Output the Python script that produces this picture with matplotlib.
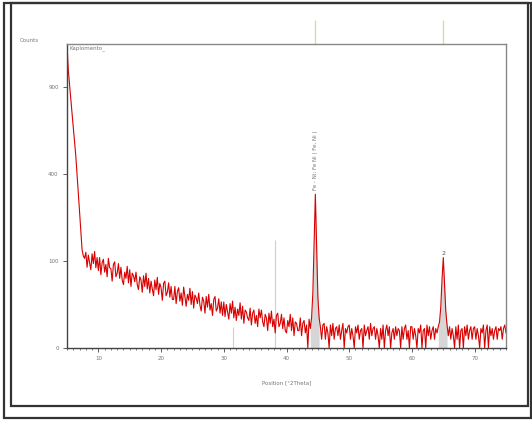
import numpy as np
import matplotlib
matplotlib.use("Agg")
import matplotlib.pyplot as plt
from matplotlib.patches import Rectangle
from matplotlib.ticker import FixedLocator, MultipleLocator
from matplotlib.transforms import blended_transform_factory

# Scan: start 5.0 deg, step 0.2 deg (counts)
SCAN_START = 5.0
SCAN_STEP = 0.2
counts = [
    1210, 1024, 918, 824, 729, 645, 562, 488, 400, 317, 246, 182, 128, 112, 106,
    121, 86, 114, 96, 81, 117, 94, 123, 85, 108,
    79, 108, 71, 96, 104, 76, 92, 67, 106, 85,
    83, 59, 92, 98, 67, 74, 94, 64, 86, 61,
    53, 76, 64, 88, 56, 81, 50, 74, 69, 58,
    76, 53, 45, 67, 61, 41, 69, 50, 74, 46,
    64, 40, 59, 46, 36, 61, 45, 66, 38, 55,
    48, 30, 55, 59, 36, 41, 56, 34, 50, 31,
    31, 50, 26, 42, 48, 29, 40, 24, 49, 35,
    23, 38, 30, 47, 25, 42, 21, 37, 33, 26,
    40, 24, 18, 34, 29, 16, 35, 22, 38, 19,
    26, 14, 31, 35, 18, 21, 32, 16, 28, 14,
    28, 13, 25, 17, 11, 26, 16, 29, 12, 22,
    10, 20, 14, 27, 11, 23, 8, 19, 17, 12,
    10, 21, 7, 16, 19, 8, 14, 6, 20, 12,
    19, 9, 6, 15, 12, 4, 16, 8, 18, 6,
    11, 3, 14, 16, 6, 8, 15, 5, 12, 4,
    3, 10, 6, 15, 4, 12, 2, 9, 8, 4,
    4, 12, 2, 8, 10, 3, 7, 0, 11, 5,
    12, 40, 150, 312, 140, 35, 12, 6, 1, 7,
    8, 1, 6, 3, 0, 7, 2, 8, 1, 5,
    6, 2, 7, 1, 4, 8, 0, 5, 3, 6,
    7, 1, 5, 2, 0, 6, 3, 7, 1, 4,
    5, 0, 7, 2, 4, 6, 1, 8, 2, 5,
    6, 1, 5, 2, 0, 5, 1, 7, 0, 4,
    7, 2, 6, 0, 3, 5, 1, 6, 2, 5,
    4, 0, 6, 1, 5, 7, 1, 4, 0, 6,
    6, 1, 5, 2, 0, 5, 3, 7, 0, 4,
    5, 0, 7, 2, 6, 1, 4, 6, 1, 5,
    3, 6, 9, 22, 62, 108, 55, 18, 7, 2,
    6, 1, 5, 2, 0, 6, 1, 7, 0, 4,
    5, 0, 6, 2, 7, 1, 4, 6, 1, 5,
    6, 1, 5, 2, 0, 5, 3, 7, 0, 4,
    7, 0, 6, 2, 5, 1, 4, 6, 1, 5,
    4, 6, 1, 5, 7, 3,
]

# reference pattern peaks (matched phase) and other reference lines
ref_peaks = [44.6, 65.0]
ref_windows = [(43.8, 45.4), (64.2, 65.8)]
other_lines = [31.4, 38.2]
other_heights = [6, 155]

y_ticks = [0, 100, 400, 900]
x_ticks = [10, 20, 30, 40, 50, 60, 70]

two_theta = SCAN_START + SCAN_STEP * np.arange(len(counts))
counts = np.array(counts, dtype=float)

fig = plt.figure(figsize=(5.32, 4.22), dpi=100)
W, H = 532, 422


def fig_rect(x0, y0, x1, y1, **kw):
    return Rectangle((x0 / W, 1 - y1 / H), (x1 - x0) / W, (y1 - y0) / H,
                     transform=fig.transFigure, fill=False, **kw)


fig.patches.append(fig_rect(4, 3, 531, 418, lw=1.6, edgecolor="#333333"))
fig.patches.append(fig_rect(11, 3, 528, 406, lw=1.6, edgecolor="#333333"))

ax = fig.add_axes([67 / W, 1 - 348 / H, (506 - 67) / W, (348 - 44) / H])
ax.set_yscale("function", functions=(np.sqrt, np.square))

for lo, hi in ref_windows:
    m = (two_theta >= lo) & (two_theta <= hi)
    ax.fill_between(two_theta[m], 0, counts[m], color="#d6d6d6", lw=0, zorder=1)

ax.vlines(other_lines, 0, other_heights, color="#cfcfcf", lw=0.8, zorder=1)
ax.plot(two_theta, counts, color="#d80000", lw=0.8, zorder=2)

trans = blended_transform_factory(ax.transData, ax.transAxes)
ax.vlines(ref_peaks, 1.0, 1.08, color="#d8d8b8", lw=1.0, transform=trans, clip_on=False)

ax.set_xlim(5, 75)
ax.set_ylim(0, 1220)
ax.xaxis.set_major_locator(FixedLocator(x_ticks))
ax.xaxis.set_minor_locator(MultipleLocator(1))
ax.yaxis.set_major_locator(FixedLocator(y_ticks))
ax.yaxis.set_minor_locator(FixedLocator([]))
ax.tick_params(axis="both", which="major", labelsize=4, labelcolor="#777777",
               length=3, width=0.6, color="#444444", pad=3)
ax.tick_params(axis="x", which="minor", length=1.5, width=0.5, color="#444444")

for s in ["left", "bottom"]:
    ax.spines[s].set_color("#444444")
    ax.spines[s].set_linewidth(1.0)
for s in ["top", "right"]:
    ax.spines[s].set_color("#888888")
    ax.spines[s].set_linewidth(1.0)

ax.set_xlabel("Position [°2Theta]", fontsize=4, color="#777777", labelpad=14)
fig.text(20 / W, 1 - 40 / H, "Counts", fontsize=4, color="#777777", va="center")
ax.text(0.005, 0.995, "Kaplomento_", transform=ax.transAxes, fontsize=4,
        color="#777777", va="top", ha="left")

ax.text(44.6, 330, "Fe - Ni; Fe Ni ( Fe, Ni )", rotation=90, fontsize=4,
        color="#777777", ha="center", va="bottom")
ax.text(65.0, 112, "2", fontsize=4.5, color="#555555", ha="center", va="bottom")

fig.savefig("out.png", dpi=100)
